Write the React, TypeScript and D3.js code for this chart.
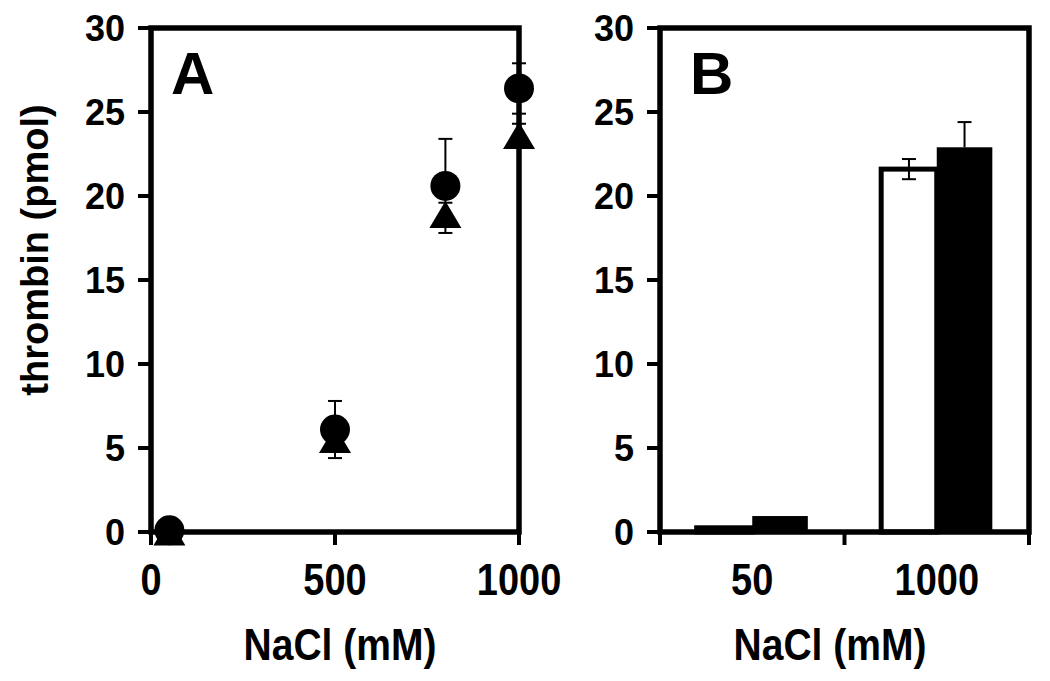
import React from "react";
import * as d3 from "d3";

// ---- Data ----
const naclA = [50, 500, 800, 1000];
const circleMean = [0.1, 6.1, 20.6, 26.4];
const circleErr = [0.3, 1.7, 2.8, 1.5];
const triangleMean = [0, 5.5, 18.9, 23.6];
const triangleErr = [0.2, 0.4, 0.7, 0.7];

const xTicksA = [0, 500, 1000];
const yTicks = [0, 5, 10, 15, 20, 25, 30];

const categoriesB = ["50", "1000"];
const openBar = [0.25, 21.6];
const openErr = [0, 0.6];
const filledBar = [0.95, 22.9];
const filledErr = [0, 1.5];

const FONT = "'Liberation Sans', Arial, Helvetica, sans-serif";

const W = 1050;
const H = 681;
const top = 28;
const bottom = 532;

const panelA = { x0: 151, x1: 519 };
const panelB = { x0: 660, x1: 1029 };

const y = d3.scaleLinear().domain([0, 30]).range([bottom, top]);
const xA = d3.scaleLinear().domain([0, 1000]).range([panelA.x0, panelA.x1]);
const xB = d3.scaleBand<string>().domain(categoriesB).range([panelB.x0, panelB.x1]).paddingInner(0).paddingOuter(0);
const xSub = d3.scaleBand<string>().domain(["open", "filled"]).range([0, xB.bandwidth()]).paddingInner(0).paddingOuter(0.66);

function YAxis({ x0 }: { x0: number }) {
  return (
    <g>
      {yTicks.map((t) => (
        <g key={t}>
          <line x1={x0 - 13} x2={x0} y1={y(t)} y2={y(t)} stroke="#000" strokeWidth={4} />
          <text x={x0 - 26} y={y(t)} dy="0.36em" textAnchor="end" fontSize={36} fontWeight="bold" fontFamily={FONT}>
            {t}
          </text>
        </g>
      ))}
    </g>
  );
}

function Frame({ x0, x1 }: { x0: number; x1: number }) {
  return <rect x={x0} y={top} width={x1 - x0} height={bottom - top} fill="none" stroke="#000" strokeWidth={5.5} />;
}

function StretchText({ x, y: yy, text, size, sy }: { x: number; y: number; text: string; size: number; sy: number }) {
  return (
    <g transform={`translate(${x},${yy}) scale(1,${sy})`}>
      <text x={0} y={0} textAnchor="middle" fontSize={size} fontWeight="bold" fontFamily={FONT}>
        {text}
      </text>
    </g>
  );
}

function ErrBar({ cx, v, e, cap, up = true, down = true }: { cx: number; v: number; e: number; cap: number; up?: boolean; down?: boolean }) {
  if (!e) return null;
  const y0 = down ? y(v - e) : y(v);
  const y1 = up ? y(v + e) : y(v);
  return (
    <g stroke="#000" strokeWidth={2}>
      <line x1={cx} x2={cx} y1={y0} y2={y1} />
      {up && <line x1={cx - cap} x2={cx + cap} y1={y(v + e)} y2={y(v + e)} />}
      {down && <line x1={cx - cap} x2={cx + cap} y1={y(v - e)} y2={y(v - e)} />}
    </g>
  );
}

const triPath = (cx: number, cy: number, w: number, h: number) =>
  `M${cx},${cy - h / 2}L${cx + w / 2},${cy + h / 2}L${cx - w / 2},${cy + h / 2}Z`;

export default function App() {
  return (
    <svg width={W} height={H} style={{ position: "absolute", left: 0, top: 0, background: "#fff" }}>
      <rect x={0} y={0} width={W} height={H} fill="#fff" />

      {/* Y label */}
      <g transform="translate(48,250) rotate(-90)">
        <text textAnchor="middle" fontSize={38} fontWeight="bold" fontFamily={FONT}>
          thrombin (pmol)
        </text>
      </g>

      {/* ---------- Panel A ---------- */}
      <YAxis x0={panelA.x0} />
      {xTicksA.map((t) => (
        <g key={t}>
          <line x1={xA(t)} x2={xA(t)} y1={bottom} y2={bottom + 13} stroke="#000" strokeWidth={4} />
          <StretchText x={xA(t)} y={595} text={String(t)} size={38} sy={1.15} />
        </g>
      ))}
      <StretchText x={340} y={660} text="NaCl (mM)" size={39} sy={1.13} />

      {/* error bars A */}
      {naclA.map((n, i) => (
        <ErrBar key={"te" + i} cx={xA(n)} v={triangleMean[i]} e={triangleErr[i]} cap={7} />
      ))}
      {naclA.map((n, i) => (
        <ErrBar key={"ce" + i} cx={xA(n)} v={circleMean[i]} e={circleErr[i]} cap={7} />
      ))}
      {naclA.map((n, i) => (
        <path key={"t" + i} d={triPath(xA(n), y(triangleMean[i]), 32, 27)} fill="#000" />
      ))}
      {naclA.map((n, i) => (
        <circle key={"c" + i} cx={xA(n)} cy={y(circleMean[i])} r={15} fill="#000" />
      ))}
      <Frame x0={panelA.x0} x1={panelA.x1} />
      <text x={171} y={94} fontSize={60} fontWeight="bold" fontFamily={FONT}>
        A
      </text>

      {/* ---------- Panel B ---------- */}
      <YAxis x0={panelB.x0} />
      {[...categoriesB.map((c) => xB(c) as number), panelB.x1].map((tx, i) => (
        <line key={"bt" + i} x1={tx} x2={tx} y1={bottom} y2={bottom + 13} stroke="#000" strokeWidth={4} />
      ))}
      {categoriesB.map((c) => (
        <StretchText key={"bl" + c} x={(xB(c) as number) + xB.bandwidth() / 2} y={595} text={c} size={38} sy={1.15} />
      ))}
      <StretchText x={830} y={660} text="NaCl (mM)" size={39} sy={1.13} />

      {categoriesB.map((c, i) => {
        const gx = xB(c) as number;
        const ox = gx + (xSub("open") as number);
        const fx = gx + (xSub("filled") as number);
        const bw = xSub.bandwidth();
        return (
          <g key={"bars" + c}>
            <rect x={ox} y={y(openBar[i])} width={bw} height={y(0) - y(openBar[i])} fill="#fff" stroke="#000" strokeWidth={5} />
            <rect x={fx} y={y(filledBar[i])} width={bw} height={y(0) - y(filledBar[i])} fill="#000" />
            <ErrBar cx={ox + bw / 2} v={openBar[i]} e={openErr[i]} cap={7} />
            <ErrBar cx={fx + bw / 2} v={filledBar[i]} e={filledErr[i]} cap={7} down={false} />
          </g>
        );
      })}
      <Frame x0={panelB.x0} x1={panelB.x1} />
      <text x={690} y={94} fontSize={60} fontWeight="bold" fontFamily={FONT}>
        B
      </text>
    </svg>
  );
}
